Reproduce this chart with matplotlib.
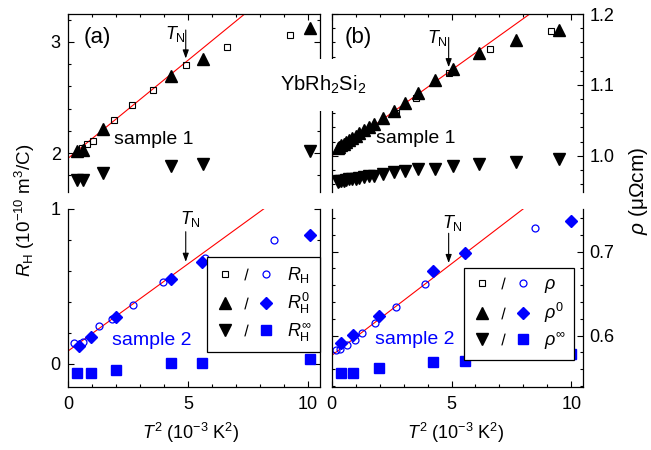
import matplotlib.pyplot as plt
from matplotlib.lines import Line2D
from matplotlib.legend_handler import HandlerTuple
from matplotlib.ticker import MultipleLocator

plt.rcParams['font.family'] = ['Liberation Sans', 'DejaVu Sans']
plt.rcParams['mathtext.fontset'] = 'custom'
plt.rcParams['mathtext.rm'] = 'Liberation Sans'
plt.rcParams['mathtext.it'] = 'Liberation Sans:italic'
plt.rcParams['mathtext.bf'] = 'Liberation Sans:bold'
plt.rcParams['mathtext.sf'] = 'Liberation Sans'

BLUE = '#0000ff'
RED = '#ff0000'

# ---- sample 1, Hall coefficient (panel a, top) ----
rh1_x = [0.56, 0.79, 1.02, 1.92, 2.64, 3.54, 4.9, 6.64, 9.27]
rh1_y = [2.05, 2.08, 2.106, 2.30, 2.43, 2.567, 2.79, 2.955, 3.064]
rh0_1_x = [0.37, 0.63, 1.46, 4.27, 5.6, 10.07]
rh0_1_y = [2.02, 2.03, 2.215, 2.69, 2.85, 3.12]
rhinf_1_x = [0.37, 0.63, 1.46, 4.27, 5.6, 10.07]
rhinf_1_y = [1.76, 1.76, 1.82, 1.885, 1.90, 2.02]
fit_a1_x = [0.0, 7.5]
fit_a1_y = [1.955, 3.275]

# ---- sample 2, Hall coefficient (panel a, bottom) ----
rh2_x = [0.24, 0.63, 1.28, 1.83, 2.71, 3.96, 5.72, 8.57]
rh2_y = [0.134, 0.14, 0.242, 0.29, 0.376, 0.53, 0.68, 0.80]
rh0_2_x = [0.43, 0.93, 1.99, 4.27, 5.58, 10.07]
rh0_2_y = [0.114, 0.17, 0.30, 0.547, 0.66, 0.833]
rhinf_2_x = [0.36, 0.93, 1.99, 4.27, 5.58, 10.07]
rhinf_2_y = [-0.06, -0.06, -0.04, 0.005, 0.004, 0.03]
fit_a2_x = [0.0, 8.3]
fit_a2_y = [0.082, 1.017]

# ---- sample 1, resistivity (panel b, top) ----
rho1_x = [2.67, 3.53, 4.88, 6.6, 9.15]
rho1_y = [1.06, 1.081, 1.117, 1.151, 1.176]
rho0_1_x = [0.25, 0.32, 0.4, 0.5, 0.6, 0.72, 0.85, 1.0, 1.15, 1.35, 1.55, 1.75,
            2.14, 2.59, 3.04, 3.59, 4.29, 5.05, 6.15, 7.68, 9.47]
rho0_1_y = [1.011, 1.013, 1.015, 1.017, 1.019, 1.022, 1.025, 1.028, 1.032, 1.036,
            1.041, 1.045, 1.053, 1.063, 1.075, 1.088, 1.107, 1.122, 1.145, 1.163, 1.178]
rhoinf_1_x = rho0_1_x
rhoinf_1_y = [0.963, 0.964, 0.964, 0.965, 0.966, 0.967, 0.967, 0.968, 0.969, 0.970,
              0.971, 0.972, 0.974, 0.977, 0.979, 0.981, 0.982, 0.986, 0.989, 0.991, 0.995]
fit_b1_x = [0.0, 8.4]
fit_b1_y = [1.0, 1.2034]

# ---- sample 2, resistivity (panel b, bottom) ----
rho2_x = [0.2, 0.34, 0.62, 0.96, 1.27, 1.82, 2.7, 3.91, 5.6, 8.5]
rho2_y = [0.583, 0.584, 0.589, 0.595, 0.603, 0.615, 0.634, 0.6615, 0.698, 0.728]
rho0_2_x = [0.37, 0.9, 1.98, 4.22, 5.56, 10.0]
rho0_2_y = [0.591, 0.6012, 0.6235, 0.677, 0.698, 0.737]
rhoinf_2_x = [0.37, 0.9, 1.98, 4.22, 5.56, 10.0]
rhoinf_2_y = [0.555, 0.555, 0.561, 0.569, 0.570, 0.578]
fit_b2_x = [0.0, 8.1]
fit_b2_y = [0.5762, 0.7535]

# marker styles
sq_open = dict(ls='none', marker='s', ms=4.6, mfc='none', mec='k', mew=0.8)
tri_up = dict(ls='none', marker='^', ms=8.5, color='k')
tri_dn = dict(ls='none', marker='v', ms=8.5, color='k')
circ_open = dict(ls='none', marker='o', ms=5, mfc='none', mec=BLUE, mew=0.9)
diam = dict(ls='none', marker='D', ms=5.8, color=BLUE)
sq_blue = dict(ls='none', marker='s', ms=6.6, color=BLUE)
slash = dict(ls='none', marker='$/$', ms=8.5, color='k', mew=0)

fig = plt.figure(figsize=(6.51, 4.5), dpi=100)
W = 0.3866
ax_a1 = fig.add_axes([0.1049, 0.5733, W, 0.3956])
ax_a2 = fig.add_axes([0.1049, 0.1407, W, 0.3949])
ax_b1 = fig.add_axes([0.5095, 0.5733, W, 0.3956])
ax_b2 = fig.add_axes([0.5095, 0.1407, W, 0.3949])


def style(ax, top, right, ymaj, ymin):
    ax.set_xlim(0, 10.5)
    ax.xaxis.set_major_locator(MultipleLocator(5))
    ax.xaxis.set_minor_locator(MultipleLocator(1))
    ax.yaxis.set_major_locator(MultipleLocator(ymaj))
    ax.yaxis.set_minor_locator(MultipleLocator(ymin))
    ax.tick_params(which='both', direction='in', top=top, bottom=not top,
                   left=True, right=True, labelbottom=not top,
                   labelleft=not right, labelright=right, labelsize=13, width=0.8)
    ax.tick_params(which='major', length=4.5)
    ax.tick_params(which='minor', length=2.5)
    ax.tick_params(axis='x', pad=7)
    ax.tick_params(axis='y', pad=4.5 if right else 5.5)
    ax.spines['bottom' if top else 'top'].set_visible(False)
    for s in ax.spines.values():
        s.set_linewidth(0.9)


def tn(ax, x, y_tail, y_tip, tx, ty):
    ax.annotate('', xy=(x, y_tip), xytext=(x, y_tail),
                arrowprops=dict(arrowstyle='-|>,head_length=0.5,head_width=0.18',
                                color='k', lw=0.8, mutation_scale=10,
                                shrinkA=0, shrinkB=0))
    ax.text(tx, ty, r'$T_{\rm N}$', fontsize=13, ha='center', va='center')


# panel a, top
ax = ax_a1
ax.plot(fit_a1_x, fit_a1_y, color=RED, lw=0.8)
ax.plot(rh1_x, rh1_y, **sq_open)
ax.plot(rh0_1_x, rh0_1_y, **tri_up)
ax.plot(rhinf_1_x, rhinf_1_y, **tri_dn)
ax.set_ylim(1.65, 3.25)
style(ax, True, False, 1, 0.2)
ax.text(1.2, 3.043, '(a)', fontsize=16, ha='center', va='center')
ax.text(3.55, 2.125, 'sample 1', fontsize=14, ha='center', va='center')
tn(ax, 4.9, 3.106, 2.85, 4.49, 3.07)

# panel a, bottom
ax = ax_a2
ax.plot(fit_a2_x, fit_a2_y, color=RED, lw=0.8)
ax.plot(rh2_x, rh2_y, **circ_open)
ax.plot(rh0_2_x, rh0_2_y, **diam)
ax.plot(rhinf_2_x, rhinf_2_y, **sq_blue)
ax.set_ylim(-0.15, 1.0001)
style(ax, False, False, 1, 0.2)
ax.text(3.5, 0.151, 'sample 2', fontsize=14, color=BLUE, ha='center', va='center')
tn(ax, 4.9, 0.853, 0.658, 5.11, 0.937)

# panel b, top
ax = ax_b1
ax.plot(fit_b1_x, fit_b1_y, color=RED, lw=0.8)
ax.plot(rho1_x, rho1_y, **sq_open)
ax.plot(rho0_1_x, rho0_1_y, **tri_up)
ax.plot(rhoinf_1_x, rhoinf_1_y, **tri_dn)
ax.set_ylim(0.949, 1.2001)
style(ax, True, True, 0.1, 0.02)
ax.text(1.09, 1.167, '(b)', fontsize=16, ha='center', va='center')
ax.text(3.52, 1.025, 'sample 1', fontsize=14, ha='center', va='center')
tn(ax, 4.88, 1.167, 1.125, 4.41, 1.166)

# panel b, bottom
ax = ax_b2
ax.plot(fit_b2_x, fit_b2_y, color=RED, lw=0.8)
ax.plot(rho2_x, rho2_y, **circ_open)
ax.plot(rho0_2_x, rho0_2_y, **diam)
ax.plot(rhoinf_2_x, rhoinf_2_y, **sq_blue)
ax.set_ylim(0.539, 0.751)
style(ax, False, True, 0.1, 0.02)
ax.text(3.46, 0.595, 'sample 2', fontsize=14, color=BLUE, ha='center', va='center')
tn(ax, 4.88, 0.722, 0.6865, 5.02, 0.734)


def legend_handles():
    return [
        (Line2D([], [], **sq_open), Line2D([], [], **slash), Line2D([], [], **circ_open)),
        (Line2D([], [], **tri_up), Line2D([], [], **slash), Line2D([], [], **diam)),
        (Line2D([], [], **tri_dn), Line2D([], [], **slash), Line2D([], [], **sq_blue)),
    ]


leg_kw = dict(handler_map={tuple: HandlerTuple(ndivide=None, pad=0)},
              loc='upper right', borderaxespad=0, fancybox=False, framealpha=1,
              edgecolor='k', fontsize=13, handlelength=3.4, handletextpad=0.6,
              labelspacing=0.3, borderpad=0.45)

lg = ax_a2.legend(legend_handles(),
                  [r'$R_{\rm H}$', r'$R_{\rm H}^{0}$', r'$R_{\rm H}^{\infty}$'],
                  bbox_to_anchor=(1.0, 0.728), **leg_kw)
lg.get_frame().set_linewidth(0.9)

lg = ax_b2.legend(legend_handles(),
                  [r'$\rho$', r'$\rho^{0}$', r'$\rho^{\infty}$'],
                  bbox_to_anchor=(0.964, 0.666), **leg_kw)
lg.get_frame().set_linewidth(0.9)

# axis labels
fig.text(25 / 651, 1 - 210 / 450, r'$R_{\rm H}$ (10$^{-10}$ m$^{3}$/C)',
         rotation=90, fontsize=13.5, ha='center', va='center')
fig.text(638 / 651, 1 - 191 / 450, r'$\rho$ (μΩcm)',
         rotation=90, fontsize=15, ha='center', va='center')
for xc in (191 / 651, 456 / 651):
    fig.text(xc, 1 - 433 / 450, r'$T^{2}$ (10$^{-3}$ K$^{2}$)',
             fontsize=13, ha='center', va='center')

# compound label sitting in the gap between the panels
fig.text(323 / 651, 1 - 85 / 450, r'YbRh$_2$Si$_2$', fontsize=14.5,
         ha='center', va='center',
         bbox=dict(boxstyle='square,pad=0.72', fc='white', ec='none'))

fig.savefig('out.png', dpi=100)
